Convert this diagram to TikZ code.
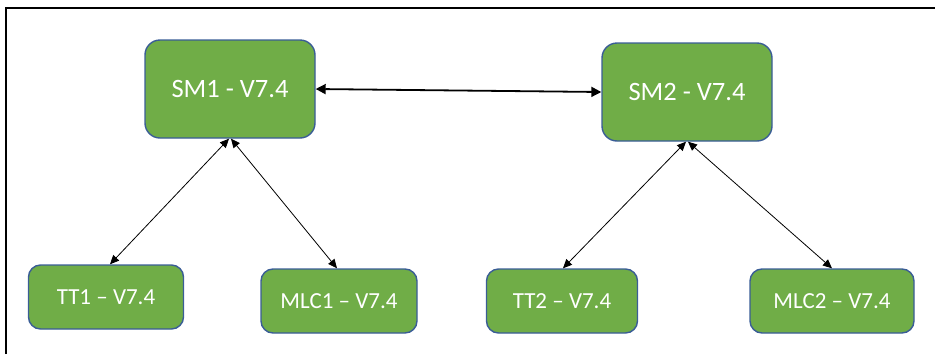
\documentclass[tikz,border=0pt]{standalone}
\usepackage{fontspec}
\setmainfont{Carlito}
\usetikzlibrary{arrows.meta}
\definecolor{boxgreen}{HTML}{70AD47}
\definecolor{boxblue}{HTML}{3A5D96}
\begin{document}
\begin{tikzpicture}[x=1pt,y=-1pt,
  box/.style={draw=boxblue, line width=1.4pt, fill=boxgreen, rounded corners=12pt,
    text=white, inner sep=0pt, anchor=center},
  bigbox/.style={box, minimum width=170pt, minimum height=98pt, font=\fontsize{26.5}{30}\selectfont, rounded corners=15pt},
  smallbox/.style={box, minimum height=64pt, font=\fontsize{23}{26}\selectfont},
  link/.style={line width=0.8pt, {Triangle[width=8pt,length=9pt]}-{Triangle[width=8pt,length=9pt]}},
  biglink/.style={line width=1.8pt, {Triangle[width=10pt,length=10pt]}-{Triangle[width=10pt,length=10pt]}}
]
\useasboundingbox (0,0) rectangle (935,354);
\draw[line width=2pt] (5.5,354) -- (5.5,7.5) -- (935,7.5);
\node[bigbox] (sm1) at (230,89) {SM1 - V7.4};
\node[bigbox] (sm2) at (687,92) {SM2 - V7.4};
\node[smallbox, minimum width=155pt] (tt1) at (106,297) {TT1 – V7.4};
\node[smallbox, minimum width=156pt] (mlc1) at (339,301) {MLC1 – V7.4};
\node[smallbox, minimum width=151pt] (tt2) at (562,301) {TT2 – V7.4};
\node[smallbox, minimum width=164pt] (mlc2) at (832,301) {MLC2 – V7.4};
\draw[biglink] (sm1.east) -- (sm2.west);
\draw[link] ([xshift=-1pt]sm1.south) -- ([xshift=4pt]tt1.north);
\draw[link] ([xshift=1pt]sm1.south) -- ([xshift=-2pt]mlc1.north);
\draw[link] ([xshift=-1pt]sm2.south) -- ([xshift=1pt]tt2.north);
\draw[link] ([xshift=1pt]sm2.south) -- (mlc2.north);
\end{tikzpicture}
\end{document}
